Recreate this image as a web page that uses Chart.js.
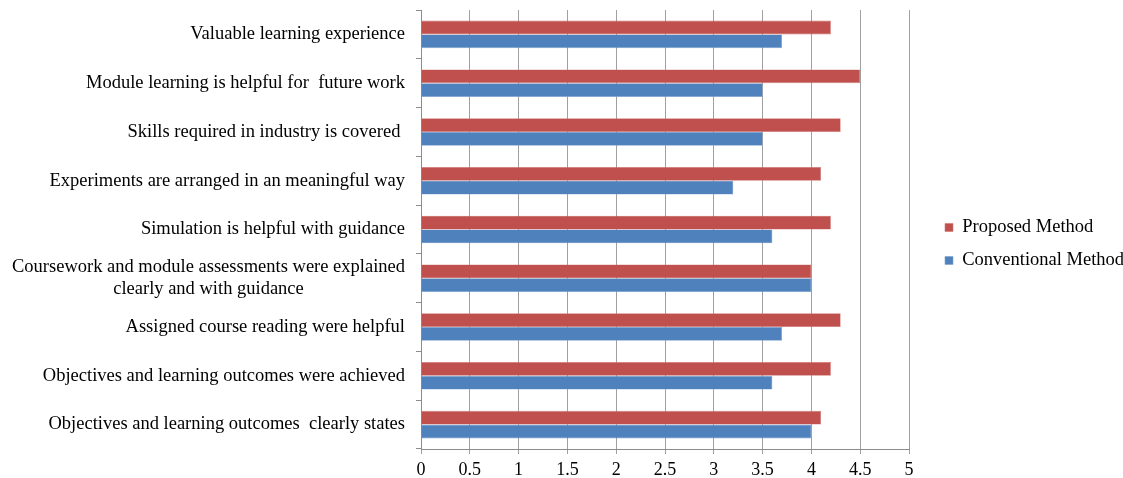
<!DOCTYPE html>
<html>
<head>
<meta charset="utf-8">
<script src="https://cdn.jsdelivr.net/npm/chart.js@4"></script>
<style>
  html, body { margin: 0; padding: 0; background: #fff; }
  #wrap { width: 1123px; height: 478px; }
</style>
</head>
<body>
<div id="wrap"><canvas id="surveyChart"></canvas></div>
<script>
const categories = [
  'Valuable learning experience',
  'Module learning is helpful for  future work',
  'Skills required in industry is covered ',
  'Experiments are arranged in an meaningful way',
  'Simulation is helpful with guidance',
  ['Coursework and module assessments were explained', 'clearly and with guidance'],
  'Assigned course reading were helpful',
  'Objectives and learning outcomes were achieved',
  'Objectives and learning outcomes  clearly states'
];
const proposed = [4.2, 4.5, 4.3, 4.1, 4.2, 4.0, 4.3, 4.2, 4.1];
const conventional = [3.7, 3.5, 3.5, 3.2, 3.6, 4.0, 3.7, 3.6, 4.0];
const xTicks = [0, 0.5, 1, 1.5, 2, 2.5, 3, 3.5, 4, 4.5, 5];

const FONT = '"Liberation Serif", "Times New Roman", serif';

// category labels: right-aligned block, extra lines centred under the first
const categoryLabels = {
  id: 'categoryLabels',
  afterDraw(chart) {
    const ctx = chart.ctx;
    const y = chart.scales.y;
    const right = y.right - 16;
    ctx.save();
    ctx.font = '18.5px ' + FONT;
    ctx.fillStyle = '#000';
    ctx.textBaseline = 'middle';
    categories.forEach((lab, i) => {
      const lines = Array.isArray(lab) ? lab : [lab];
      const cy = y.getPixelForTick(i);
      const lh = 22;
      const top = cy - (lines.length - 1) * lh / 2;
      const maxW = Math.max(...lines.map(l => ctx.measureText(l).width));
      lines.forEach((l, k) => {
        if (lines.length > 1) {
          ctx.textAlign = 'center';
          ctx.fillText(l, right - maxW / 2, top + k * lh);
        } else {
          ctx.textAlign = 'right';
          ctx.fillText(l, right, top);
        }
      });
    });
    ctx.restore();
  }
};

const ctx = document.getElementById('surveyChart').getContext('2d');
new Chart(ctx, {
  type: 'bar',
  data: {
    labels: categories,
    datasets: [
      {
        label: 'Proposed Method',
        data: proposed,
        backgroundColor: '#C0504D',
        borderColor: '#D07875',
        borderWidth: 0.6
      },
      {
        label: 'Conventional Method',
        data: conventional,
        backgroundColor: '#4F81BD',
        borderColor: '#7EA1CF',
        borderWidth: 0.6
      }
    ]
  },
  options: {
    indexAxis: 'y',
    responsive: true,
    maintainAspectRatio: false,
    animation: false,
    datasets: {
      bar: { categoryPercentage: 0.565, barPercentage: 1 }
    },
    layout: { padding: { top: 10, left: 0, right: 0, bottom: 0 } },
    scales: {
      x: {
        min: 0,
        max: 5,
        afterBuildTicks: scale => { scale.ticks = xTicks.map(v => ({ value: v })); },
        afterFit: scale => { scale.height = 29; },
        grid: {
          color: '#a0a0a0',
          lineWidth: 1,
          tickLength: 5,
          drawTicks: true
        },
        border: { color: '#8c8c8c' },
        ticks: {
          color: '#000',
          font: { family: FONT, size: 18 },
          padding: 5,
          maxRotation: 0,
          callback: v => String(v)
        }
      },
      y: {
        afterFit: scale => { scale.width = 421; },
        grid: {
          drawOnChartArea: false,
          tickLength: 5,
          color: '#8c8c8c'
        },
        border: { color: '#8c8c8c' },
        ticks: { display: false }
      },
      // blank strip between the plot and the legend
      gap: {
        axis: 'y',
        type: 'category',
        position: 'right',
        afterFit: scale => { scale.width = 21.5; },
        grid: { display: false },
        border: { display: false },
        ticks: { display: false }
      }
    },
    plugins: {
      legend: {
        position: 'right',
        maxWidth: 192.5,
        labels: {
          color: '#000',
          font: { family: FONT, size: 18.5 },
          boxWidth: 8,
          boxHeight: 8,
          padding: 14.5
        }
      },
      tooltip: { enabled: false }
    }
  },
  plugins: [categoryLabels]
});
</script>
</body>
</html>
